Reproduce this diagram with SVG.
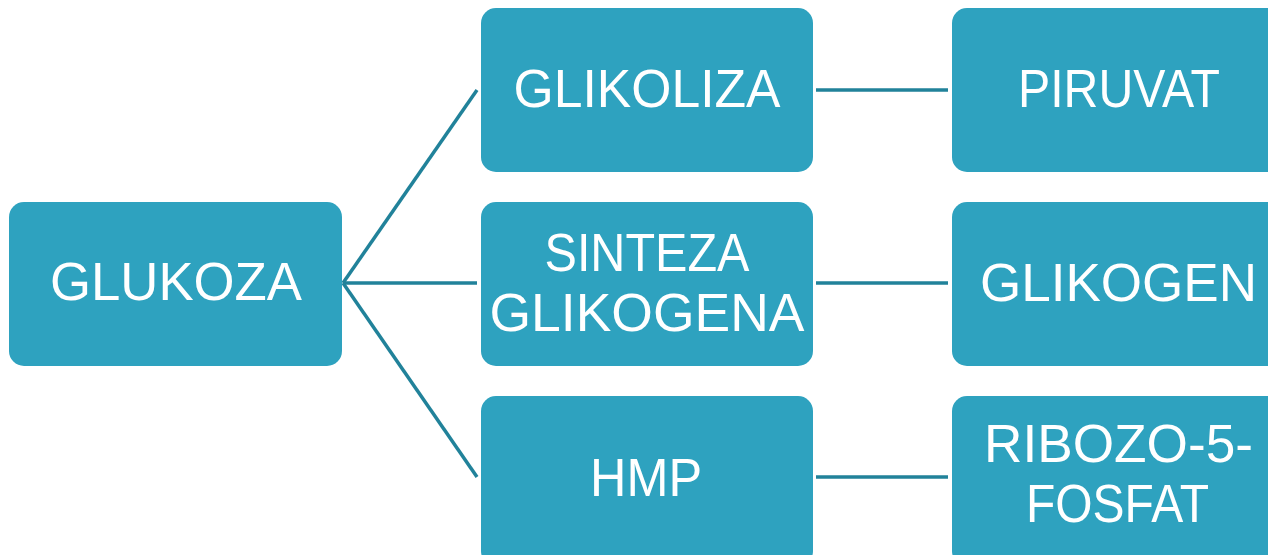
<svg xmlns="http://www.w3.org/2000/svg" width="1268" height="555" viewBox="0 0 1268 555">
<style>
.box{fill:#2ea2bf;}
.t{font-family:"Liberation Sans",Arial,sans-serif;font-size:53px;fill:#ffffff;text-anchor:middle;}
.c{stroke:#21829a;stroke-width:3.5;fill:none;}
</style>
<rect width="1268" height="555" fill="#ffffff"/>
<g id="connectors">
<line class="c" x1="343" y1="283" x2="477" y2="90"/>
<line class="c" x1="343" y1="283" x2="477" y2="283"/>
<line class="c" x1="343" y1="283" x2="477" y2="477"/>
<line class="c" x1="816" y1="90" x2="948" y2="90"/>
<line class="c" x1="816" y1="283" x2="948" y2="283"/>
<line class="c" x1="816" y1="477" x2="948" y2="477"/>
</g>
<g id="glukoza"><rect class="box" x="9" y="202" width="333" height="164" rx="15"/><text class="t" x="176" y="300" textLength="252" lengthAdjust="spacingAndGlyphs">GLUKOZA</text></g>
<g id="glikoliza"><rect class="box" x="481" y="8" width="332" height="164" rx="15"/><text class="t" x="647" y="107" textLength="267" lengthAdjust="spacingAndGlyphs">GLIKOLIZA</text></g>
<g id="sinteza"><rect class="box" x="481" y="202" width="332" height="164" rx="15"/><text class="t" x="647" y="271" textLength="205" lengthAdjust="spacingAndGlyphs">SINTEZA</text><text class="t" x="647" y="331" textLength="315" lengthAdjust="spacingAndGlyphs">GLIKOGENA</text></g>
<g id="hmp"><rect class="box" x="481" y="396" width="332" height="170" rx="15"/><text class="t" x="646" y="496" textLength="112" lengthAdjust="spacingAndGlyphs">HMP</text></g>
<g id="piruvat"><rect class="box" x="952" y="8" width="333" height="164" rx="15"/><text class="t" x="1119" y="107" textLength="202" lengthAdjust="spacingAndGlyphs">PIRUVAT</text></g>
<g id="glikogen"><rect class="box" x="952" y="202" width="333" height="164" rx="15"/><text class="t" x="1118.5" y="301" textLength="277" lengthAdjust="spacingAndGlyphs">GLIKOGEN</text></g>
<g id="ribozo"><rect class="box" x="952" y="396" width="333" height="170" rx="15"/><text class="t" x="1118.5" y="462" textLength="269" lengthAdjust="spacingAndGlyphs">RIBOZO-5-</text><text class="t" x="1117.5" y="522" textLength="183" lengthAdjust="spacingAndGlyphs">FOSFAT</text></g>
</svg>
